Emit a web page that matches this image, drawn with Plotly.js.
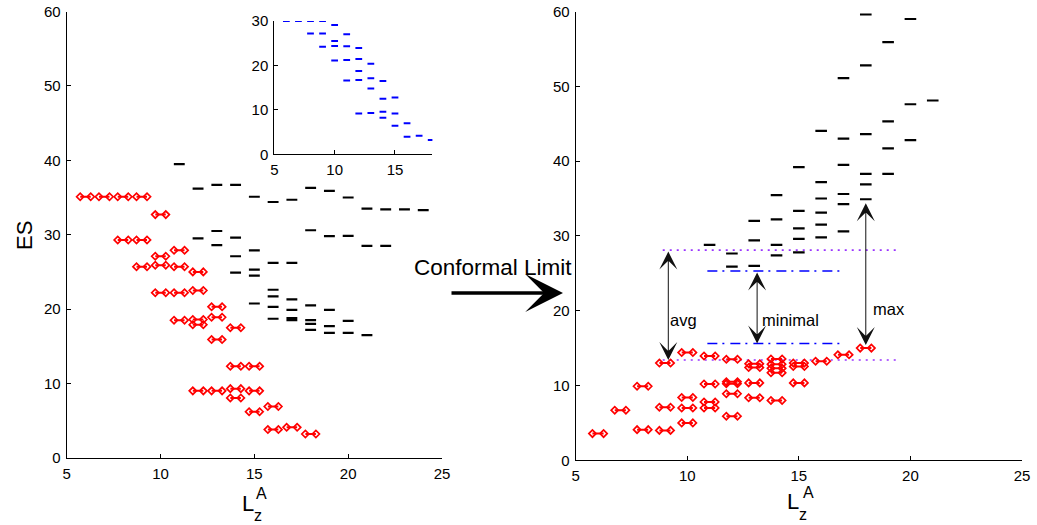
<!DOCTYPE html>
<html><head><meta charset="utf-8">
<script src="https://cdn.plot.ly/plotly-3.0.1.min.js"></script>
<style>html,body{margin:0;padding:0;background:#fff}</style>
</head><body>
<div id="chart" style="width:1037px;height:525px"></div>
<script>
// ---------------- data ----------------
// Left panel, red levels (L_z^A, ES)
const leftRedL  = [6,7,8,8,9,9,9,10,10,10,10,11,11,11,11,12,12,12,12,12,13,13,13,13,14,14,14,14,15,15,15,16,16,17,18];
const leftRedES = [35.1,35.1, 35.1,29.3, 35.1,29.3,25.7, 32.7,27.1,25.9,22.2, 27.9,25.7,22.2,18.5,
                   25.0,22.5,18.6,17.9,9.0, 20.3,18.9,15.9,9.0, 17.5,12.3,9.3,8.05, 12.3,9.0,6.2, 6.9,3.8, 4.1, 3.2];
// Left panel, black levels
const leftBlackL  = [11,12,12,13,13,13,14,14,14,14,15,15,15,15,15,16,16,16,16,16,16,17,17,17,17,17,17,
                     18,18,18,18,18,18,19,19,19,19,19,20,20,20,20,21,21,21,22,22,23,24];
const leftBlackES = [39.5, 36.2,29.5, 36.7,30.5,28.6, 36.7,29.6,27.1,24.9, 35.1,27.9,25.3,24.5,20.75,
                     34.4,26.2,22.6,21.7,20.3,18.7, 34.7,26.2,21.3,19.9,18.8,18.5,
                     36.3,30.6,20.5,18.5,18.0,17.2, 35.9,29.8,19.9,17.7,16.8, 35.0,29.85,18.4,16.8,
                     33.5,28.5,16.5, 33.4,28.5, 33.4, 33.3];
// Inset, blue levels
const insetL  = [6,7,8,8,9,9,9,10,10,10,10,11,11,11,11,12,12,12,12,12,13,13,13,13,14,14,14,14,15,15,15,16,16,17,18];
const insetES = [30,30, 30,27.2, 30,27.2,24.2, 29.1,25.5,24.4,21.1, 27.0,24.3,21.2,16.6,
                 23.9,21.45,18.75,16.7,9.2, 20.4,17.1,14.8,9.3, 16.5,12.5,9.6,8.25, 12.8,9.2,6.45, 7.0,3.97, 4.2, 3.2];
// Right panel (conformal limit), red levels
const rightRedL  = [6,7,8,8,9,9,9,10,10,10,10,11,11,11,11,12,12,12,12,12,13,13,13,13,14,14,14,14,14,15,15,15,16,17,18];
const rightRedES = [3.57, 6.7, 9.9,4.1, 13.0,7.1,4.0, 14.4,8.4,7.0,5.0, 13.95,10.2,7.8,7.0,
                    13.5,10.5,10.25,8.9,5.9, 12.9,12.4,10.35,8.35, 13.55,12.85,12.3,11.7,8.0,
                    13.0,12.55,10.35, 13.25, 14.1, 15.0];
// Right panel, black levels
const rightBlackL  = [11,12,12,13,13,13,14,14,14,14,15,15,15,15,15,16,16,16,16,16,16,
                      17,17,17,17,17,17,18,18,18,18,18,18,19,19,19,19,20,20,20,21];
const rightBlackES = [28.8, 27.65,25.9, 32.0,29.4,26.0, 35.45,32.2,28.8,27.4, 39.2,33.35,31.0,29.6,27.8,
                      44.05,37.2,35.0,33.1,31.5,29.8, 51.1,43.0,39.5,35.6,34.25,30.6,
                      59.6,52.8,43.6,38.3,36.9,34.9, 55.9,45.3,41.7,38.3, 59.0,47.6,42.8, 48.1];
// Reference lines in the right panel
const avgLevels = [13.4, 28.1];  const avgSpan = [8.9, 19.4];
const minLevels = [15.6, 25.3];  const minSpan = [10.9, 17.0];
// Gap arrows: [L, lower ES, upper ES]
const gapNames  = ['avg', 'minimal', 'max'];
const gapL      = [9.15, 13.13, 18.0];
const gapLow    = [13.4, 15.6, 15.4];
const gapHigh   = [28.1, 25.3, 34.55];
const gapLabelL = [9.15, 13.25, 18.25];
const gapLabelES= [18.7, 18.8, 20.2];

// ---------------- layout helpers ----------------
const W = 1037, H = 525;
const dx = (a, b) => [a / W, b / W];
const dy = (bottom, top) => [1 - bottom / H, 1 - top / H];
const FONT = '"Liberation Sans", Arial, Helvetica, sans-serif';

function segs(Ls, Es, hw) {
  const x = [], y = [];
  for (let i = 0; i < Ls.length; i++) {
    x.push(Ls[i] - hw, Ls[i] + hw, null);
    y.push(Es[i], Es[i], null);
  }
  return {x, y};
}
function hlines(levels, span) {
  const x = [], y = [];
  levels.forEach(v => { x.push(span[0], span[1], null); y.push(v, v, null); });
  return {x, y};
}

const lr = segs(leftRedL, leftRedES, 0.28);
const lb = segs(leftBlackL, leftBlackES, 0.29);
const ib = segs(insetL, insetES, 0.28);
const rr = segs(rightRedL, rightRedES, 0.25);
const rb = segs(rightBlackL, rightBlackES, 0.26);
const av = hlines(avgLevels, avgSpan);
const mn = hlines(minLevels, minSpan);

const redStyle = {
  mode: 'lines+markers', line: {color: '#ff0000', width: 2},
  marker: {symbol: 'diamond-open', size: 5.5, color: '#ff0000', line: {color: '#ff0000', width: 1.7}},
  hoverinfo: 'skip'
};

const traces = [
  Object.assign({x: lr.x, y: lr.y, xaxis: 'x', yaxis: 'y'}, redStyle),
  {x: lb.x, y: lb.y, xaxis: 'x', yaxis: 'y', mode: 'lines', line: {color: '#000', width: 2.2}},
  {x: ib.x, y: ib.y, xaxis: 'x3', yaxis: 'y3', mode: 'lines', line: {color: '#0000ff', width: 2}},
  {x: av.x, y: av.y, xaxis: 'x2', yaxis: 'y2', mode: 'lines', line: {color: '#9933ff', width: 1.6, dash: '2px,5px'}},
  {x: mn.x, y: mn.y, xaxis: 'x2', yaxis: 'y2', mode: 'lines', line: {color: '#0000ff', width: 1.5, dash: '10px,5px,2px,6px'}},
  {x: rb.x, y: rb.y, xaxis: 'x2', yaxis: 'y2', mode: 'lines', line: {color: '#000', width: 2.2}},
  Object.assign({x: rr.x, y: rr.y, xaxis: 'x2', yaxis: 'y2'}, redStyle)
];

const axBase = {
  showgrid: false, zeroline: false, showline: true, linecolor: '#000', linewidth: 1,
  ticks: 'inside', ticklen: 4, tickcolor: '#000', mirror: false, ticklabelstandoff: 2,
  tickfont: {family: FONT, size: 15, color: '#000'}, fixedrange: true
};
const ax = o => Object.assign({}, axBase, o);

function txt(px, py, text, size, extra) {
  return Object.assign({xref: 'paper', yref: 'paper', x: px / W, y: 1 - py / H, text: text,
    showarrow: false, xanchor: 'center', yanchor: 'middle',
    font: {family: FONT, size: size, color: '#000'}}, extra || {});
}

const annotations = [
  txt(24, 236, 'ES', 22, {textangle: -90}),
  // x-axis titles  L_z^A
  txt(247.5, 503, 'L', 22), txt(261, 493, 'A', 16), txt(258, 515, 'z', 16),
  txt(792.5, 501, 'L', 22), txt(808, 492, 'A', 16), txt(803, 514, 'z', 16),
  // Conformal Limit
  txt(492.5, 267, 'Conformal Limit', 22.5),
  {xref: 'paper', yref: 'paper', x: 563 / W, y: 1 - 293 / H, text: '', showarrow: true,
   axref: 'pixel', ayref: 'pixel', ax: -113, ay: 0, arrowhead: 3, arrowsize: 1.8, arrowwidth: 3.5, arrowcolor: '#000'}
];
for (let i = 0; i < gapNames.length; i++) {
  annotations.push({xref: 'x2', yref: 'y2', x: gapL[i], y: gapLow[i], axref: 'x2', ayref: 'y2',
    ax: gapL[i], ay: gapHigh[i], text: '', showarrow: true, arrowside: 'end+start',
    arrowhead: 3, startarrowhead: 3, arrowsize: 3, startarrowsize: 3, arrowwidth: 1, arrowcolor: '#111'});
  annotations.push({xref: 'x2', yref: 'y2', x: gapLabelL[i], y: gapLabelES[i], text: gapNames[i],
    showarrow: false, xanchor: 'left', yanchor: 'middle', font: {family: FONT, size: 16.5, color: '#000'}});
}

const layout = {
  width: W, height: H, margin: {l: 0, r: 0, t: 0, b: 0},
  paper_bgcolor: '#fff', plot_bgcolor: 'rgba(0,0,0,0)', showlegend: false,
  font: {family: FONT, color: '#000'},
  xaxis:  ax({domain: dx(66.7, 442),  range: [5, 25], tickvals: [5,10,15,20,25], anchor: 'y'}),
  yaxis:  ax({domain: dy(457.8, 11.6), range: [0, 60], tickvals: [0,10,20,30,40,50,60], anchor: 'x'}),
  xaxis2: ax({domain: dx(575.7, 1022), range: [5, 25], tickvals: [5,10,15,20,25], anchor: 'y2'}),
  yaxis2: ax({domain: dy(460.3, 11.5), range: [0, 60], tickvals: [0,10,20,30,40,50,60], anchor: 'x2'}),
  xaxis3: ax({domain: dx(274.3, 432.4), range: [5, 18.1], tickvals: [5,10,15], anchor: 'y3'}),
  yaxis3: ax({domain: dy(154.3, 21), range: [0, 30], tickvals: [0,10,20,30], anchor: 'x3'}),
  annotations: annotations
};

Plotly.newPlot('chart', traces, layout, {staticPlot: true, displayModeBar: false});
</script>
</body></html>
